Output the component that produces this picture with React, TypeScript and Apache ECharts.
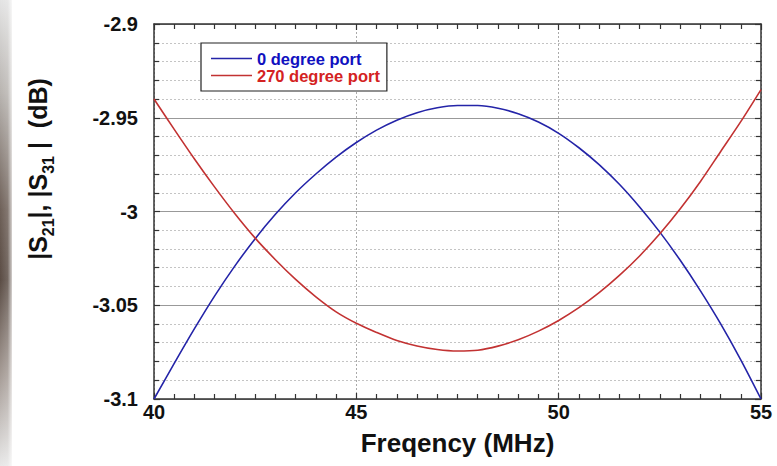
import React, { useEffect, useRef } from "react";
import * as echarts from "echarts";

const freqs = [40, 40.5, 41, 41.5, 42, 42.5, 43, 43.5, 44, 44.5, 45, 45.5, 46, 46.5, 47, 47.5, 48, 48.5, 49, 49.5, 50, 50.5, 51, 51.5, 52, 52.5, 53, 53.5, 54, 54.5, 55];
const port0 = [-3.1, -3.081, -3.0625, -3.045, -3.029, -3.0145, -3.0015, -2.99, -2.98, -2.971, -2.9632, -2.9566, -2.9513, -2.9473, -2.9447, -2.9435, -2.9435, -2.9449, -2.9479, -2.9523, -2.9583, -2.966, -2.975, -2.9855, -2.9976, -3.011, -3.0259, -3.0422, -3.0598, -3.0791, -3.1];
const port270 = [-2.94, -2.9562, -2.972, -2.987, -3.0012, -3.0142, -3.0257, -3.0362, -3.0455, -3.0535, -3.0596, -3.0645, -3.0688, -3.0717, -3.0736, -3.0744, -3.074, -3.0718, -3.0684, -3.0638, -3.0581, -3.0513, -3.0433, -3.0341, -3.0237, -3.0119, -2.9987, -2.9841, -2.9681, -2.9521, -2.935];
const seriesNames = ["0 degree port", "270 degree port"];
const xTitle = "Freqency (MHz)";

const FONT = "'Liberation Sans', Arial, Helvetica, sans-serif";

export default function App() {
  const ref = useRef<HTMLDivElement>(null);
  useEffect(() => {
    if (!ref.current) return;
    const chart = echarts.init(ref.current, null, { renderer: "svg" });
    const fmtY = (v: number) => String(Math.round(v * 100) / 100);
    const axisCommon = {
      axisLine: { show: true, lineStyle: { color: "#333", width: 1.5 } },
      axisTick: { show: true, inside: true, length: 6, lineStyle: { color: "#333", width: 1.2 } },
      minorTick: { show: true, length: 5, lineStyle: { color: "#333", width: 1.2 } },
    };
    chart.setOption({
      animation: false,
      backgroundColor: "#fff",
      grid: { left: 154, right: 16, top: 24, bottom: 67, containLabel: false },
      legend: {
        left: 201,
        top: 43,
        orient: "vertical",
        backgroundColor: "#fff",
        borderColor: "#222",
        borderWidth: 1.2,
        padding: [7, 7, 7, 10],
        itemGap: 0,
        itemWidth: 41,
        itemHeight: 1.6,
        icon: "rect",
        data: [
          { name: seriesNames[0], textStyle: { color: "#1010c0" } },
          { name: seriesNames[1], textStyle: { color: "#d42222" } },
        ],
        textStyle: { fontFamily: FONT, fontWeight: "bold", fontSize: 16.5, lineHeight: 17 },
      },
      xAxis: [
        {
          type: "value",
          min: 40,
          max: 55,
          interval: 5,
          position: "bottom",
          ...axisCommon,
          minorTick: { ...axisCommon.minorTick, splitNumber: 10 },
          splitLine: { show: true, lineStyle: { color: "#aaa", type: [2, 2], width: 1 } },
          axisLabel: { color: "#111", fontFamily: FONT, fontWeight: "bold", fontSize: 20, margin: 3 },
          name: xTitle,
          nameLocation: "middle",
          nameGap: 31,
          nameTextStyle: { color: "#111", fontFamily: FONT, fontWeight: "bold", fontSize: 26 },
        },
        {
          type: "value",
          min: 40,
          max: 55,
          interval: 5,
          position: "top",
          ...axisCommon,
          minorTick: { ...axisCommon.minorTick, splitNumber: 10 },
          splitLine: { show: false },
          axisLabel: { show: false },
        },
      ],
      yAxis: [
        {
          type: "value",
          min: -3.1,
          max: -2.9,
          interval: 0.05,
          position: "left",
          ...axisCommon,
          minorTick: { ...axisCommon.minorTick, splitNumber: 5 },
          splitLine: { show: true, lineStyle: { color: "#999", width: 1 } },
          minorSplitLine: { show: true, lineStyle: { color: "#c4c4c4", type: [2, 2], width: 1 } },
          axisLabel: { color: "#111", fontFamily: FONT, fontWeight: "bold", fontSize: 20, margin: 16, formatter: fmtY },
        },
        {
          type: "value",
          min: -3.1,
          max: -2.9,
          interval: 0.05,
          position: "right",
          ...axisCommon,
          minorTick: { ...axisCommon.minorTick, splitNumber: 5 },
          splitLine: { show: false },
          axisLabel: { show: false },
        },
      ],
      series: [
        {
          name: seriesNames[0],
          type: "line",
          symbol: "none",
          smooth: 0.3,
          lineStyle: { color: "#2424a8", width: 1.6 },
          itemStyle: { color: "#2424a8" },
          data: freqs.map((f, i) => [f, port0[i]]),
          z: 3,
        },
        {
          name: seriesNames[1],
          type: "line",
          symbol: "none",
          smooth: 0.3,
          lineStyle: { color: "#c23232", width: 1.6 },
          itemStyle: { color: "#c23232" },
          data: freqs.map((f, i) => [f, port270[i]]),
          z: 3,
        },
      ],
      graphic: [
        {
          type: "rect",
          left: 0,
          top: 0,
          shape: { x: 0, y: 0, width: 12, height: 466 },
          style: {
            fill: new echarts.graphic.LinearGradient(0, 0, 0, 1, [
              { offset: 0, color: "#e4e4e4" },
              { offset: 0.2, color: "#b8b4b0" },
              { offset: 0.45, color: "#6e6058" },
              { offset: 0.6, color: "#5a4c44" },
              { offset: 0.8, color: "#a49a94" },
              { offset: 1, color: "#e8e8e8" },
            ]),
          },
          z: 1,
        },
        {
          type: "rect",
          left: 0,
          top: 0,
          shape: { x: 0, y: 0, width: 14, height: 466 },
          style: {
            fill: new echarts.graphic.LinearGradient(0, 0, 1, 0, [
              { offset: 0, color: "rgba(255,255,255,0)" },
              { offset: 0.55, color: "rgba(255,255,255,0.15)" },
              { offset: 1, color: "rgba(255,255,255,1)" },
            ]),
          },
          z: 2,
        },
        {
          type: "text",
          x: 38,
          y: 169,
          rotation: Math.PI / 2,
          style: {
            text: "{a||S}{s|21}{a||, |S}{t|31}{a||  (dB)}",
            align: "center",
            verticalAlign: "middle",
            fill: "#111",
            rich: {
              a: { fontFamily: FONT, fontWeight: "bold", fontSize: 25, lineHeight: 30, fill: "#111", color: "#111" },
              s: { fontFamily: FONT, fontWeight: "bold", fontSize: 16, lineHeight: 16, padding: [20, 0, 0, 0], fill: "#111", color: "#111" },
              t: { fontFamily: FONT, fontWeight: "bold", fontSize: 16, lineHeight: 16, padding: [20, 7, 0, 0], fill: "#111", color: "#111" },
            },
          },
          z: 5,
        },
      ],
    });
    return () => chart.dispose();
  }, []);
  return <div ref={ref} style={{ position: "fixed", left: 0, top: 0, width: 777, height: 466 }} />;
}
